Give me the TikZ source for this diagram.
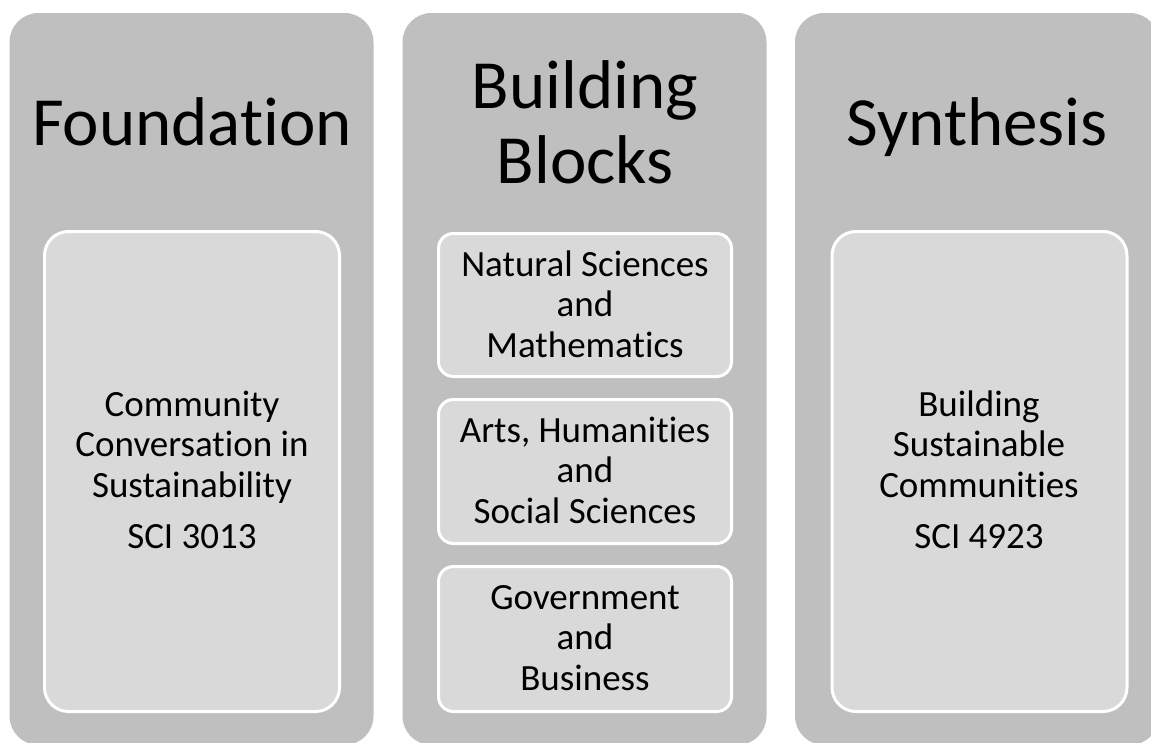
\documentclass[tikz,border=0pt]{standalone}
\usepackage{fontspec}
\setmainfont{Carlito}[Ligatures={NoCommon}]
\definecolor{colgray}{HTML}{BFBFBF}
\definecolor{boxgray}{HTML}{D9D9D9}
\tikzset{
  column/.style={fill=colgray, draw=none, rounded corners=29pt, inner sep=0pt, minimum width=364pt, minimum height=732pt},
  bigbox/.style={fill=boxgray, draw=white, line width=3pt, rounded corners=24pt, inner sep=0pt, minimum width=295pt, minimum height=480pt},
  smallbox/.style={fill=boxgray, draw=white, line width=3pt, rounded corners=15pt, inner sep=0pt, minimum width=293pt},
  titletext/.style={anchor=base, inner sep=0pt, align=center, font=\fontsize{69}{75}\selectfont},
  bodytext/.style={anchor=base, inner sep=0pt, align=center, font=\fontsize{37}{40.5}\selectfont},
}
\begin{document}
\begin{tikzpicture}[x=1pt,y=-1pt]
\useasboundingbox (0,0) rectangle (1151,742);
\clip (0,0) rectangle (1151,742);
\fill[white] (0,0) rectangle (1151,742);
% columns
\node[column] (col1) at (191.5,379) {};
\node[column] (col2) at (584.5,379) {};
\node[column] (col3) at (977,379) {};
% titles
\node[titletext] (t1) at (192,145) {Foundation};
\node[titletext] (t2) at (585,183) {Building\\Blocks};
\node[titletext] (t3) at (977,145) {Synthesis};
% inner boxes
\node[bigbox] (b1) at (192,471.5) {};
\node[smallbox, minimum height=143pt] (m1) at (585,305) {};
\node[smallbox, minimum height=144pt] (m2) at (585,471.5) {};
\node[smallbox, minimum height=145pt] (m3) at (585,639) {};
\node[bigbox] (b3) at (979.5,471.5) {};
% texts
\node[bodytext] (x1) at (192,548) {Community\\Conversation in\\Sustainability\\[10.5pt]SCI 3013};
\node[bodytext] (y1) at (585,357) {Natural Sciences\\and\\Mathematics};
\node[bodytext] (y2) at (585,523) {Arts, Humanities\\and\\Social Sciences};
\node[bodytext] (y3) at (585,690) {Government\\and\\Business};
\node[bodytext] (x3) at (979,548) {Building\\Sustainable\\Communities\\[10.5pt]SCI 4923};
\end{tikzpicture}
\end{document}
